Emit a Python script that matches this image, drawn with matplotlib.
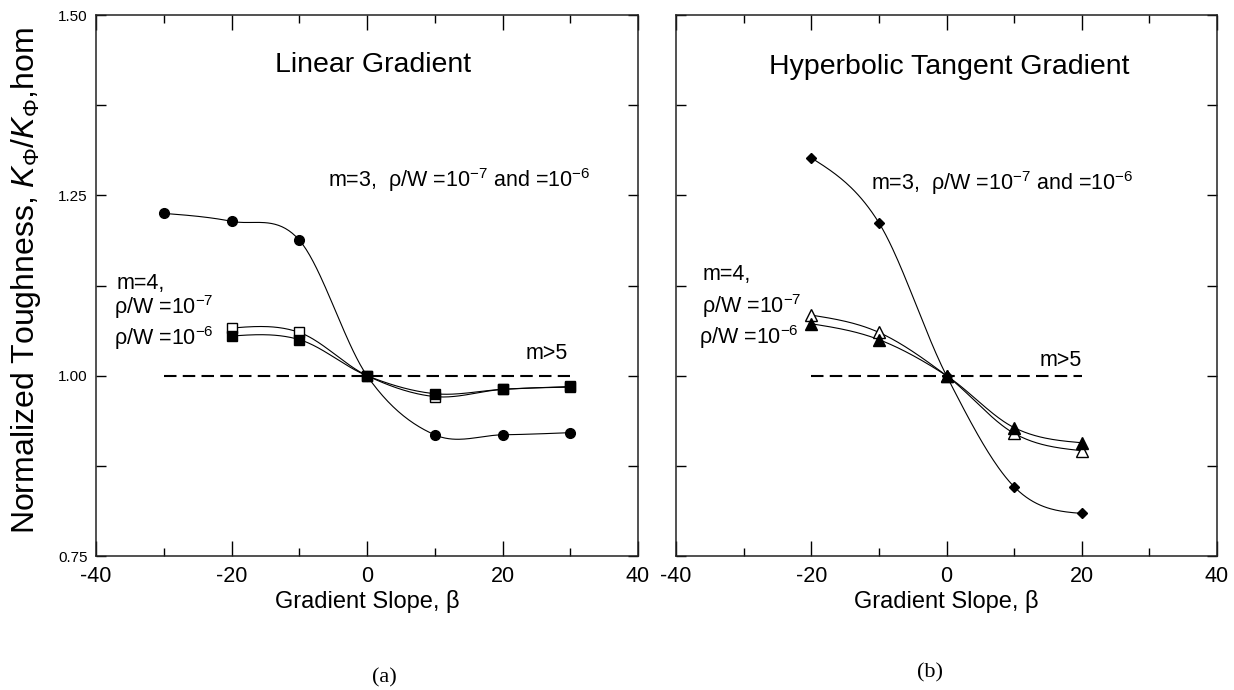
import numpy as np
import matplotlib
matplotlib.use("Agg")
import matplotlib.pyplot as plt

plt.rcParams['font.family'] = ['Liberation Sans', 'DejaVu Sans']
plt.rcParams['mathtext.fontset'] = 'custom'
plt.rcParams['mathtext.rm'] = 'Liberation Sans'
plt.rcParams['mathtext.it'] = 'Liberation Sans:italic'
plt.rcParams['mathtext.default'] = 'regular'

# ---------------- data ----------------
lin_x3 = [-30, -20, -10, 0, 10, 20, 30]
lin_m3 = [1.225, 1.214, 1.188, 1.000, 0.918, 0.918, 0.921]
lin_x4 = [-20, -10, 0, 10, 20, 30]
lin_m4_e7 = [1.066, 1.060, 1.000, 0.971, 0.981, 0.984]
lin_m4_e6 = [1.055, 1.050, 1.000, 0.975, 0.981, 0.985]
lin_ref_x = [-30, 30]
lin_ref_y = [1.0, 1.0]

tanh_x = [-20, -10, 0, 10, 20]
tanh_m3 = [1.302, 1.212, 1.000, 0.846, 0.809]
tanh_m4_e7 = [1.084, 1.060, 1.000, 0.920, 0.896]
tanh_m4_e6 = [1.072, 1.050, 1.000, 0.928, 0.907]
tanh_ref_x = [-20, 20]
tanh_ref_y = [1.0, 1.0]

x_ticks = [-40, -20, 0, 20, 40]
x_ticklabels = ["-40", "-20", "0", "20", "40"]
y_ticks = [0.75, 1.00, 1.25, 1.50]
y_ticklabels = ["0.75", "1.00", "1.25", "1.50"]


def smooth(x, y, n=40):
    """Smooth Hermite (Catmull-Rom type) path through the points, for drawing the line only."""
    x = np.asarray(x, float)
    y = np.asarray(y, float)
    k = len(x)
    sec = np.diff(y) / np.diff(x)
    m = np.zeros(k)
    for i in range(1, k - 1):
        m[i] = (y[i + 1] - y[i - 1]) / (x[i + 1] - x[i - 1])
    m[0] = (3 * sec[0] - m[1]) / 2
    m[-1] = (3 * sec[-1] - m[-2]) / 2
    xs_all, ys_all = [], []
    for i in range(k - 1):
        h = x[i + 1] - x[i]
        t = np.linspace(0, 1, n)
        h00 = 2 * t ** 3 - 3 * t ** 2 + 1
        h10 = t ** 3 - 2 * t ** 2 + t
        h01 = -2 * t ** 3 + 3 * t ** 2
        h11 = t ** 3 - t ** 2
        xs_all.append(x[i] + t * h)
        ys_all.append(h00 * y[i] + h10 * h * m[i] + h01 * y[i + 1] + h11 * h * m[i + 1])
    return np.concatenate(xs_all), np.concatenate(ys_all)


W, H = 1234, 690
fig = plt.figure(figsize=(W / 100, H / 100), dpi=100)
axL = fig.add_axes([96 / W, 1 - 556 / H, 542 / W, 541 / H])
axR = fig.add_axes([676 / W, 1 - 556 / H, 541 / W, 541 / H])

for ax in (axL, axR):
    ax.set_xlim(-40, 40)
    ax.set_ylim(0.75, 1.50)
    ax.set_xticks(x_ticks)
    ax.set_xticklabels(x_ticklabels)
    ax.set_xticks([-30, -10, 10, 30], minor=True)
    ax.set_yticks(y_ticks)
    ax.set_yticks([0.875, 1.125, 1.375], minor=True)
    ax.tick_params(axis='x', which='both', direction='in', top=True, bottom=True,
                   labelsize=15.5, pad=7, width=1)
    ax.tick_params(axis='x', which='major', length=11)
    ax.tick_params(axis='x', which='minor', length=6)
    ax.tick_params(axis='y', which='both', direction='in', left=True, right=True,
                   labelsize=11, pad=6, width=1, length=7)
    for s in ax.spines.values():
        s.set_linewidth(1.1)
        s.set_color('#222222')
    ax.set_xlabel("Gradient Slope, β", fontsize=17)
    ax.xaxis.set_label_coords(0.5, -0.062)

axL.set_yticklabels(y_ticklabels)
axR.set_yticklabels([])
axL.set_ylabel(r"Normalized Toughness, $\mathit{K}_{\Phi}/\mathit{K}_{\Phi}$,hom", fontsize=23)
axL.yaxis.set_label_coords(-0.098, 0.51)

line_kw = dict(color='black', lw=0.8, zorder=2)
dash_kw = dict(color='black', lw=1.5, dashes=(6, 3), zorder=1)

# ---------------- left: linear gradient ----------------
axL.plot(lin_ref_x, lin_ref_y, **dash_kw)
series_L = [(lin_x3, lin_m3, 'o', 'black'),
            (lin_x4, lin_m4_e7, 's', 'white'),
            (lin_x4, lin_m4_e6, 's', 'black')]
for xv, yv, mk, fc in series_L:
    xs, ys = smooth(xv, yv)
    axL.plot(xs, ys, **line_kw)
for xv, yv, mk, fc in series_L:
    axL.plot(xv, yv, ls='none', marker=mk, ms=7, mfc=fc, mec='black', mew=1.0, zorder=3)

tk = dict(fontsize=15.5, va='baseline', ha='left')
axL.text(0.85, 1.421, "Linear Gradient", fontsize=20.5, ha='center', va='baseline')
axL.text(-5.8, 1.262, r"m=3,  ρ/W =10$^{-7}$ and =10$^{-6}$", **tk)
axL.text(-37.0, 1.120, "m=4,", **tk)
axL.text(-37.4, 1.086, r"ρ/W =10$^{-7}$", **tk)
axL.text(-37.4, 1.042, r"ρ/W =10$^{-6}$", **tk)
axL.text(23.4, 1.023, "m>5", **tk)

# ---------------- right: hyperbolic tangent gradient ----------------
axR.plot(tanh_ref_x, tanh_ref_y, **dash_kw)
for yv in (tanh_m3, tanh_m4_e7, tanh_m4_e6):
    xs, ys = smooth(tanh_x, yv)
    axR.plot(xs, ys, **line_kw)
axR.plot(tanh_x, tanh_m3, ls='none', marker='D', ms=5, mfc='black', mec='black', zorder=3)
axR.plot(tanh_x, tanh_m4_e7, ls='none', marker='^', ms=8, mfc='white', mec='black', mew=1.0, zorder=3)
axR.plot(tanh_x, tanh_m4_e6, ls='none', marker='^', ms=8, mfc='black', mec='black', mew=1.0, zorder=3)

axR.text(0.4, 1.418, "Hyperbolic Tangent Gradient", fontsize=20.5, ha='center', va='baseline')
axR.text(-11.1, 1.258, r"m=3,  ρ/W =10$^{-7}$ and =10$^{-6}$", **tk)
axR.text(-36.0, 1.133, "m=4,", **tk)
axR.text(-36.2, 1.0875, r"ρ/W =10$^{-7}$", **tk)
axR.text(-36.6, 1.044, r"ρ/W =10$^{-6}$", **tk)
axR.text(13.7, 1.014, "m>5", **tk)

fig.text(384 / W, 1 - 678 / H, "(a)", fontsize=16, family='Liberation Serif', ha='center', va='center')
fig.text(930 / W, 1 - 673 / H, "(b)", fontsize=16, family='Liberation Serif', ha='center', va='center')

fig.savefig("out.png", dpi=100)
